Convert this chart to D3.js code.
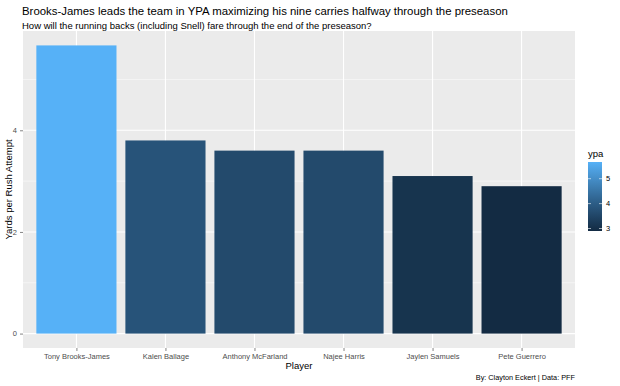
<!DOCTYPE html>
<html>
<head>
<meta charset="utf-8">
<script src="https://cdn.jsdelivr.net/npm/d3@7"></script>
<style>
  body { margin: 0; background: #fff; }
  text { font-family: "Liberation Sans", Arial, sans-serif; }
</style>
</head>
<body>
<script>
// data
var players = ["Tony Brooks-James", "Kalen Ballage", "Anthony McFarland", "Najee Harris", "Jaylen Samuels", "Pete Guerrero"]
var ypa = [5.67, 3.8, 3.6, 3.6, 3.1, 2.9]
var yTicks = [0, 2, 4]
var legendTicks = [3, 4, 5]

var width = 620, height = 386
var panel = {left: 23, right: 575, top: 31, bottom: 348}

var svg = d3.select('body').append('svg').attr('width', width).attr('height', height)

var data = players.map(function(p, i) { return {player: p, ypa: ypa[i]} })

// discrete x the ggplot way: positions 1..n, 0.6 expansion each side
var x = d3.scalePoint().domain(players)
var unit = (panel.right - panel.left) / (players.length - 1 + 1.2)
x.range([panel.left + 0.6 * unit, panel.right - 0.6 * unit])
var barW = 0.9 * unit

var maxV = d3.max(ypa)
var y = d3.scaleLinear().domain([-0.05 * maxV, maxV * 1.05]).range([panel.bottom, panel.top])

var col = d3.scaleLinear().domain(d3.extent(ypa)).range(["#132B43", "#56B1F7"]).interpolate(d3.interpolateLab)

// panel
svg.append('rect').attr('x', panel.left).attr('y', panel.top)
  .attr('width', panel.right - panel.left).attr('height', panel.bottom - panel.top).attr('fill', '#EBEBEB')

var grid = svg.append('g')
grid.selectAll('.minor').data([1, 3, 5]).enter().append('line')
  .attr('x1', panel.left).attr('x2', panel.right)
  .attr('y1', function(d) { return y(d) }).attr('y2', function(d) { return y(d) })
  .attr('stroke', '#fff').attr('stroke-width', 0.5)
grid.selectAll('.major').data(yTicks).enter().append('line')
  .attr('x1', panel.left).attr('x2', panel.right)
  .attr('y1', function(d) { return y(d) }).attr('y2', function(d) { return y(d) })
  .attr('stroke', '#fff').attr('stroke-width', 1.1)
grid.selectAll('.vmajor').data(players).enter().append('line')
  .attr('x1', function(d) { return x(d) }).attr('x2', function(d) { return x(d) })
  .attr('y1', panel.top).attr('y2', panel.bottom)
  .attr('stroke', '#fff').attr('stroke-width', 1.1)

// bars
svg.append('g').selectAll('rect').data(data).enter().append('rect')
  .attr('x', function(d) { return x(d.player) - barW / 2 })
  .attr('width', barW)
  .attr('y', function(d) { return y(d.ypa) })
  .attr('height', function(d) { return y(0) - y(d.ypa) })
  .attr('fill', function(d) { return col(d.ypa) })

// axes
var yAxis = svg.append('g').attr('transform', 'translate(' + panel.left + ',0)')
  .call(d3.axisLeft(y).tickValues(yTicks).tickFormat(d3.format('d')).tickSize(3).tickPadding(3))
var xAxis = svg.append('g').attr('transform', 'translate(0,' + panel.bottom + ')')
  .call(d3.axisBottom(x).tickSize(3).tickPadding(3))
;[yAxis, xAxis].forEach(function(a) {
  a.select('.domain').remove()
  a.selectAll('.tick line').attr('stroke', '#333').attr('stroke-width', 0.6)
  a.selectAll('.tick text').attr('fill', '#4D4D4D').style('font-size', '7.5px')
})

// titles
svg.append('text').attr('x', 22).attr('y', 15).style('font-size', '11.4px').attr('fill', '#000')
  .text('Brooks-James leads the team in YPA maximizing his nine carries halfway through the preseason')
svg.append('text').attr('x', 22).attr('y', 28.5).style('font-size', '9.5px').attr('fill', '#000')
  .text('How will the running backs (including Snell) fare through the end of the preseason?')
svg.append('text').attr('transform', 'translate(12,' + ((panel.top + panel.bottom) / 2) + ') rotate(-90)')
  .attr('text-anchor', 'middle').style('font-size', '9.5px').text('Yards per Rush Attempt')
svg.append('text').attr('x', (panel.left + panel.right) / 2).attr('y', 369)
  .attr('text-anchor', 'middle').style('font-size', '9.5px').text('Player')
svg.append('text').attr('x', panel.right).attr('y', 380)
  .attr('text-anchor', 'end').style('font-size', '7.3px').text('By: Clayton Eckert | Data: PFF')

// colour legend
var lg = svg.append('g')
var lx = 588, lw = 14, ltop = 162, lbot = 231
var ly = d3.scaleLinear().domain(d3.extent(ypa)).range([lbot, ltop])
var defs = svg.append('defs')
var grad = defs.append('linearGradient').attr('id', 'ypagrad').attr('x1', 0).attr('x2', 0).attr('y1', 1).attr('y2', 0)
d3.range(0, 1.0001, 0.1).forEach(function(t) {
  var v = col.domain()[0] + t * (col.domain()[1] - col.domain()[0])
  grad.append('stop').attr('offset', t).attr('stop-color', col(v))
})
lg.append('rect').attr('x', lx).attr('y', ltop).attr('width', lw).attr('height', lbot - ltop).attr('fill', 'url(#ypagrad)')
lg.selectAll('.lt').data(legendTicks).enter().append('g').each(function(d) {
  var g = d3.select(this)
  g.append('line').attr('x1', lx).attr('x2', lx + 3).attr('y1', ly(d)).attr('y2', ly(d)).attr('stroke', '#fff').attr('stroke-width', 0.6)
  g.append('line').attr('x1', lx + lw - 3).attr('x2', lx + lw).attr('y1', ly(d)).attr('y2', ly(d)).attr('stroke', '#fff').attr('stroke-width', 0.6)
  g.append('text').attr('x', lx + lw + 4).attr('y', ly(d)).attr('dy', '0.35em').style('font-size', '7.5px').attr('fill', '#000').text(d)
})
lg.append('text').attr('x', lx).attr('y', 157).style('font-size', '9.5px').text('ypa')
</script>
</body>
</html>
